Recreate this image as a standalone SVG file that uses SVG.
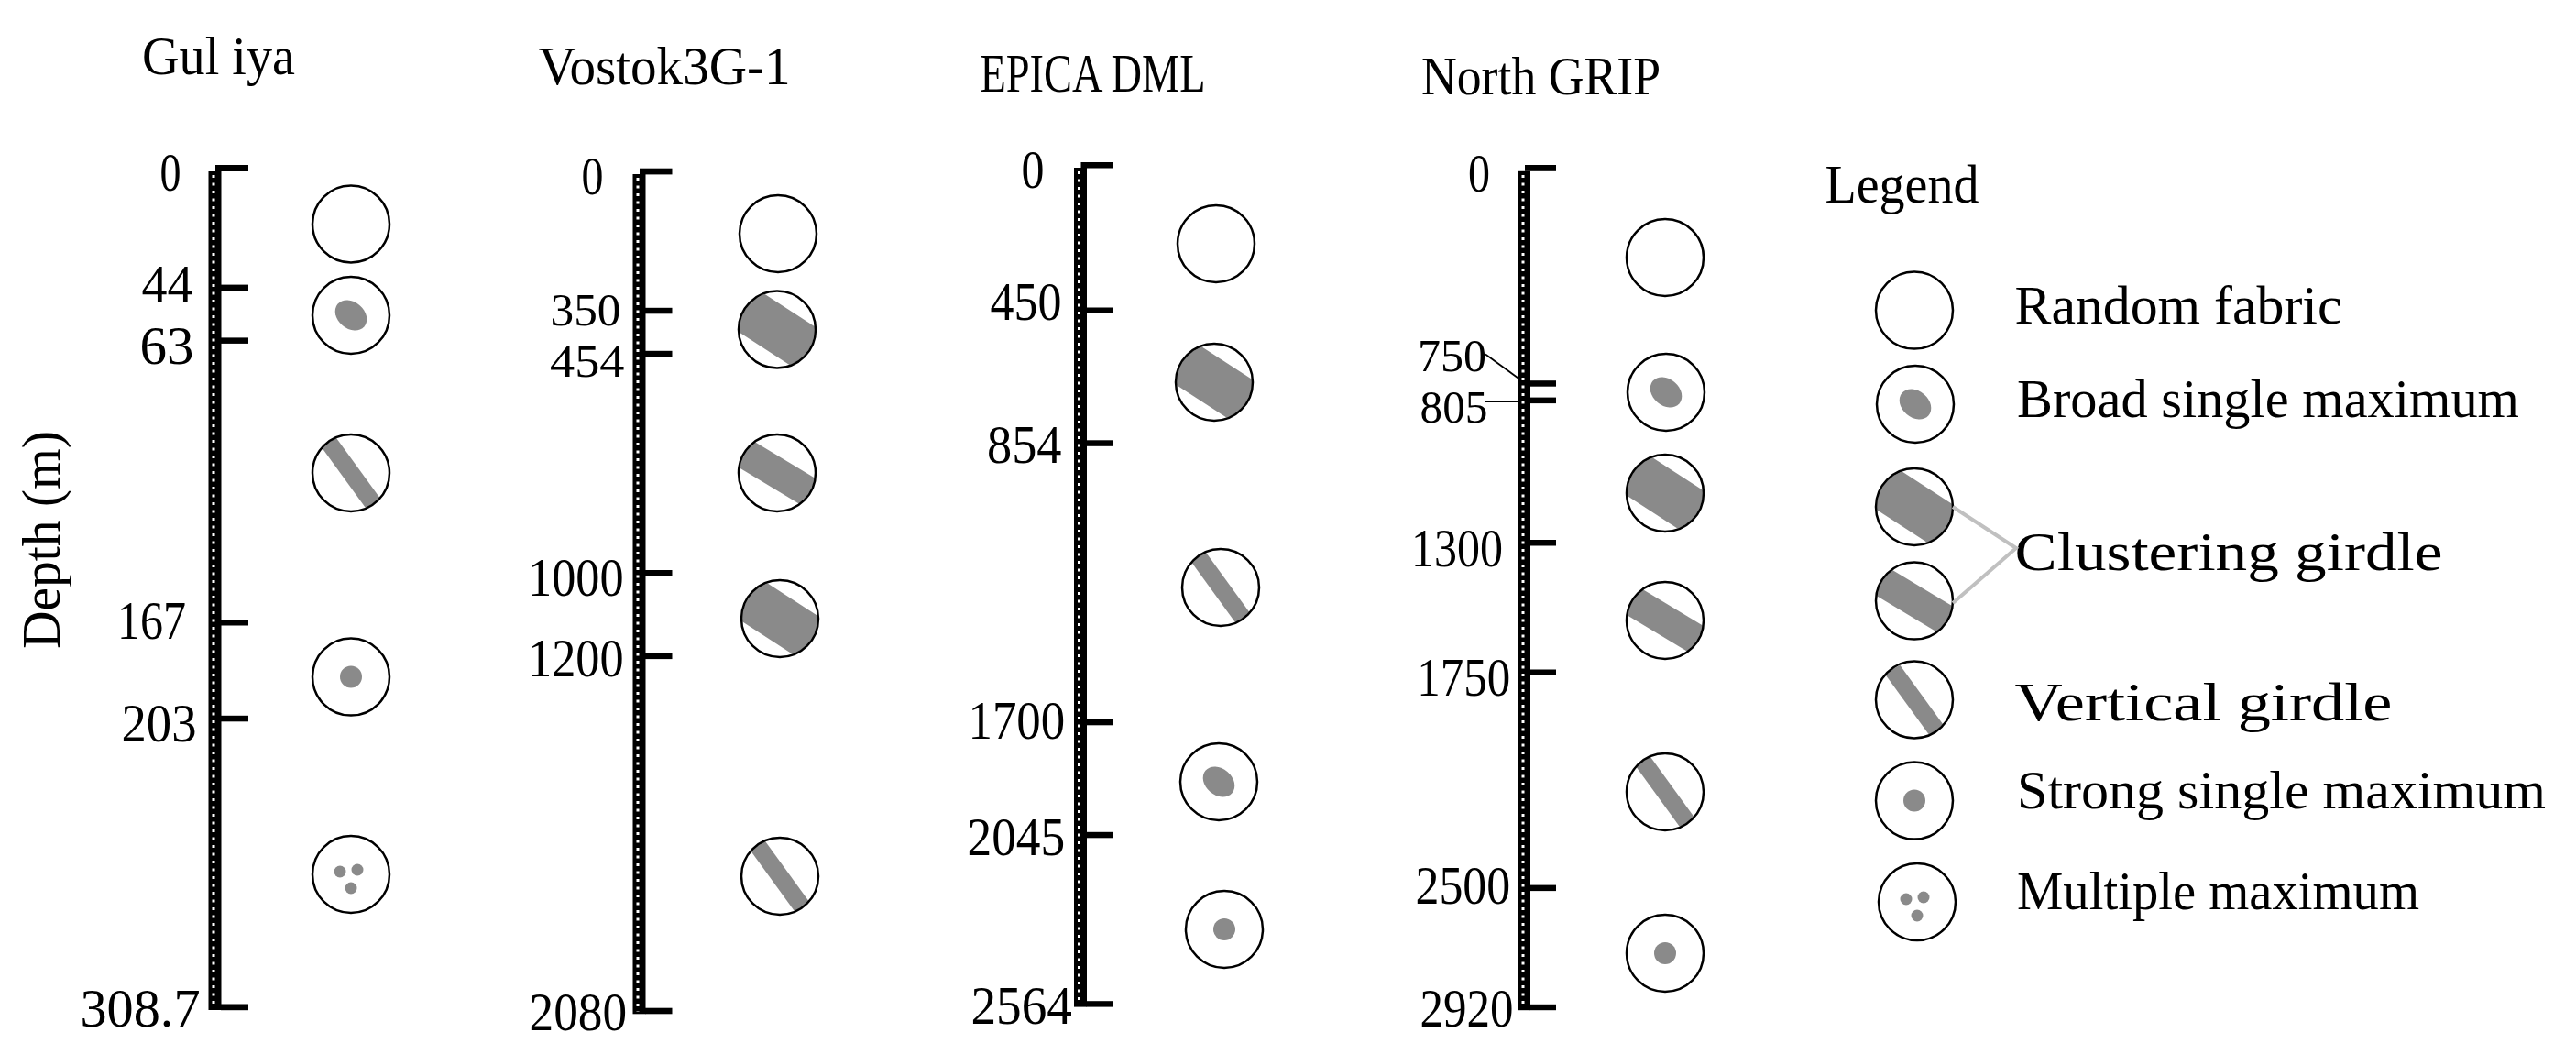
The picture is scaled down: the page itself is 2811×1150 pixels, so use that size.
<svg xmlns="http://www.w3.org/2000/svg" width="2811" height="1150" viewBox="0 0 2811 1150">
<style>
text{font-family:"Liberation Serif","Times New Roman",serif;font-size:60px;fill:#000}
text.tight{font-size:50px}
.ax{fill:#000}
.dots{stroke:#fff;stroke-width:3;stroke-dasharray:3 5.5;fill:none}
.ring{fill:none;stroke:#000;stroke-width:2.5}
.g{fill:#8a8a8a}
.lead{stroke:#000;stroke-width:1.8;fill:none}
.brk{stroke:#c0c0c0;stroke-width:4;fill:none}
</style>
<defs>
<clipPath id="cc"><circle r="41"/></clipPath>
<g id="rnd"><circle class="ring" r="42"/></g>
<g id="bro"><ellipse class="g" rx="19" ry="14.5" transform="rotate(40)"/><circle class="ring" r="42"/></g>
<g id="cw"><rect class="g" x="-60" y="-25" width="120" height="50" transform="rotate(33)" clip-path="url(#cc)"/><circle class="ring" r="42"/></g>
<g id="cm"><rect class="g" x="-60" y="-16.5" width="120" height="33" transform="rotate(31)" clip-path="url(#cc)"/><circle class="ring" r="42"/></g>
<g id="vg"><rect class="g" x="-60" y="-9.5" width="120" height="19" transform="rotate(54)" clip-path="url(#cc)"/><circle class="ring" r="42"/></g>
<g id="str"><circle class="g" r="12"/><circle class="ring" r="42"/></g>
<g id="mul"><circle class="g" cx="-12" cy="-3" r="6.5"/><circle class="g" cx="7" cy="-5" r="6.5"/><circle class="g" cx="0" cy="15" r="6.5"/><circle class="ring" r="42"/></g>
</defs>
<rect width="2811" height="1150" fill="#fff"/>

<text id="ylabel" transform="translate(65,708) rotate(-90)" textLength="238" lengthAdjust="spacingAndGlyphs">Depth (m)</text>

<g id="guliya">
<text x="155" y="81" textLength="167" lengthAdjust="spacingAndGlyphs">Gul iya</text>
<rect class="ax" x="227.5" y="187" width="14" height="915"/>
<line class="dots" x1="233" y1="191" x2="233" y2="1100"/>
<rect class="ax" x="235" y="180" width="36" height="7"/>
<rect class="ax" x="241" y="310.6" width="30" height="6.5"/>
<rect class="ax" x="241" y="368.4" width="30" height="6.5"/>
<rect class="ax" x="241" y="676" width="30" height="6.5"/>
<rect class="ax" x="241" y="780.8" width="30" height="6.5"/>
<rect class="ax" x="241" y="1095.5" width="30" height="6.7"/>
<text x="174.5" y="208" textLength="23" lengthAdjust="spacingAndGlyphs">0</text>
<text x="154.5" y="330" textLength="56" lengthAdjust="spacingAndGlyphs">44</text>
<text x="152.5" y="397" textLength="59" lengthAdjust="spacingAndGlyphs">63</text>
<text x="128" y="697" textLength="75" lengthAdjust="spacingAndGlyphs">167</text>
<text x="132.5" y="809" textLength="82" lengthAdjust="spacingAndGlyphs">203</text>
<text x="87.5" y="1120" textLength="131" lengthAdjust="spacingAndGlyphs">308.7</text>
<use id="gu1" href="#rnd" x="383" y="244.5"/>
<use id="gu2" href="#bro" x="383" y="344"/>
<use id="gu3" href="#vg" x="383" y="516"/>
<use id="gu4" href="#str" x="383" y="738.6"/>
<use id="gu5" href="#mul" x="383" y="954"/>
</g>

<g id="vostok">
<text x="587.5" y="92" textLength="275" lengthAdjust="spacingAndGlyphs">Vostok3G-1</text>
<rect class="ax" x="690.5" y="190" width="14" height="916.3"/>
<line class="dots" x1="696" y1="194" x2="696" y2="1104"/>
<rect class="ax" x="698" y="183.7" width="35.5" height="6.7"/>
<rect class="ax" x="704" y="335.8" width="29.5" height="6.5"/>
<rect class="ax" x="704" y="382.8" width="29.5" height="6.5"/>
<rect class="ax" x="704" y="622" width="29.5" height="6.5"/>
<rect class="ax" x="704" y="712.6" width="29.5" height="6.5"/>
<rect class="ax" x="704" y="1099.7" width="29.5" height="6.6"/>
<text x="634.5" y="212" textLength="24" lengthAdjust="spacingAndGlyphs">0</text>
<text class="tight" x="600.5" y="355" textLength="77" lengthAdjust="spacingAndGlyphs">350</text>
<text class="tight" x="600" y="411" textLength="81.5" lengthAdjust="spacingAndGlyphs">454</text>
<text x="576" y="650" textLength="104.5" lengthAdjust="spacingAndGlyphs">1000</text>
<text x="576" y="737.5" textLength="104.5" lengthAdjust="spacingAndGlyphs">1200</text>
<text x="577.5" y="1124" textLength="106.5" lengthAdjust="spacingAndGlyphs">2080</text>
<use id="vo1" href="#rnd" x="849" y="255"/>
<use id="vo2" href="#cw" x="848" y="359.5"/>
<use id="vo3" href="#cm" x="848" y="516"/>
<use id="vo4" href="#cw" x="851" y="675"/>
<use id="vo5" href="#vg" x="851" y="956"/>
</g>

<g id="epica">
<text x="1069.5" y="99.5" textLength="246" lengthAdjust="spacingAndGlyphs">EPICA DML</text>
<rect class="ax" x="1172" y="183" width="14" height="915.6"/>
<line class="dots" x1="1177.5" y1="187" x2="1177.5" y2="1096"/>
<rect class="ax" x="1179.5" y="177" width="35.5" height="6.5"/>
<rect class="ax" x="1185.5" y="335.5" width="29.5" height="6.5"/>
<rect class="ax" x="1185.5" y="480.3" width="29.5" height="6.5"/>
<rect class="ax" x="1185.5" y="784.8" width="29.5" height="6.5"/>
<rect class="ax" x="1185.5" y="907.8" width="29.5" height="6.5"/>
<rect class="ax" x="1185.5" y="1092.2" width="29.5" height="6.4"/>
<text x="1114.5" y="204.7" textLength="25" lengthAdjust="spacingAndGlyphs">0</text>
<text x="1080.5" y="349" textLength="78" lengthAdjust="spacingAndGlyphs">450</text>
<text x="1077" y="505" textLength="81.5" lengthAdjust="spacingAndGlyphs">854</text>
<text x="1056.5" y="805.6" textLength="105.7" lengthAdjust="spacingAndGlyphs">1700</text>
<text x="1055.5" y="932.7" textLength="106.7" lengthAdjust="spacingAndGlyphs">2045</text>
<text x="1059.5" y="1117" textLength="110.4" lengthAdjust="spacingAndGlyphs">2564</text>
<use id="ep1" href="#rnd" x="1327" y="266"/>
<use id="ep2" href="#cw" x="1325" y="417"/>
<use id="ep3" href="#vg" x="1332" y="641"/>
<use id="ep4" href="#bro" x="1330" y="853"/>
<use id="ep5" href="#str" x="1336" y="1014"/>
</g>

<g id="ngrip">
<text x="1551" y="103" textLength="261" lengthAdjust="spacingAndGlyphs">North GRIP</text>
<rect class="ax" x="1656.5" y="186.8" width="13.5" height="915.4"/>
<line class="dots" x1="1662" y1="191" x2="1662" y2="1100"/>
<rect class="ax" x="1664" y="180" width="34" height="6.8"/>
<rect class="ax" x="1669.5" y="415.2" width="28.5" height="6.5"/>
<rect class="ax" x="1669.5" y="433.6" width="28.5" height="6.5"/>
<rect class="ax" x="1669.5" y="589" width="28.5" height="6.5"/>
<rect class="ax" x="1669.5" y="730.5" width="28.5" height="6.5"/>
<rect class="ax" x="1669.5" y="965.6" width="28.5" height="6.5"/>
<rect class="ax" x="1669.5" y="1095.8" width="28.5" height="6.4"/>
<text x="1602" y="208.6" textLength="24" lengthAdjust="spacingAndGlyphs">0</text>
<text class="tight" x="1547" y="405" textLength="75" lengthAdjust="spacingAndGlyphs">750</text>
<text class="tight" x="1549.5" y="461" textLength="74" lengthAdjust="spacingAndGlyphs">805</text>
<text x="1540" y="618" textLength="100" lengthAdjust="spacingAndGlyphs">1300</text>
<text x="1546.3" y="758.6" textLength="102" lengthAdjust="spacingAndGlyphs">1750</text>
<text x="1544.5" y="986" textLength="103.7" lengthAdjust="spacingAndGlyphs">2500</text>
<text x="1549.5" y="1120" textLength="102" lengthAdjust="spacingAndGlyphs">2920</text>
<use id="ng1" href="#rnd" x="1817" y="281"/>
<use id="ng2" href="#bro" x="1818" y="428"/>
<use id="ng3" href="#cw" x="1817" y="538"/>
<use id="ng4" href="#cm" x="1817" y="677"/>
<use id="ng5" href="#vg" x="1817" y="864"/>
<use id="ng6" href="#str" x="1817" y="1040"/>
</g>

<g id="legend">
<text x="1991.5" y="221" textLength="168" lengthAdjust="spacingAndGlyphs">Legend</text>
<use id="lg1" href="#rnd" x="2089" y="338.6"/>
<use id="lg2" href="#bro" x="2090" y="441"/>
<use id="lg3" href="#cw" x="2089" y="553"/>
<use id="lg4" href="#cm" x="2089" y="655.6"/>
<use id="lg5" href="#vg" x="2089" y="763.5"/>
<use id="lg6" href="#str" x="2089" y="873.6"/>
<use id="lg7" href="#mul" x="2092" y="984"/>
<text x="2198.5" y="353" textLength="357" lengthAdjust="spacingAndGlyphs">Random fabric</text>
<text x="2201" y="455" textLength="548" lengthAdjust="spacingAndGlyphs">Broad single maximum</text>
<text x="2198.5" y="622" textLength="467" lengthAdjust="spacingAndGlyphs">Clustering girdle</text>
<text x="2198.5" y="786" textLength="412" lengthAdjust="spacingAndGlyphs">Vertical girdle</text>
<text x="2201" y="882" textLength="577" lengthAdjust="spacingAndGlyphs">Strong single maximum</text>
<text x="2201" y="992" textLength="439" lengthAdjust="spacingAndGlyphs">Multiple maximum</text>
</g>

<g id="connectors">
<polyline class="brk" points="2131,553 2200,598 2131,658"/>
<line class="lead" x1="1621" y1="386.5" x2="1658" y2="413.5"/>
<line class="lead" x1="1621" y1="438" x2="1658" y2="438"/>
</g>
</svg>
